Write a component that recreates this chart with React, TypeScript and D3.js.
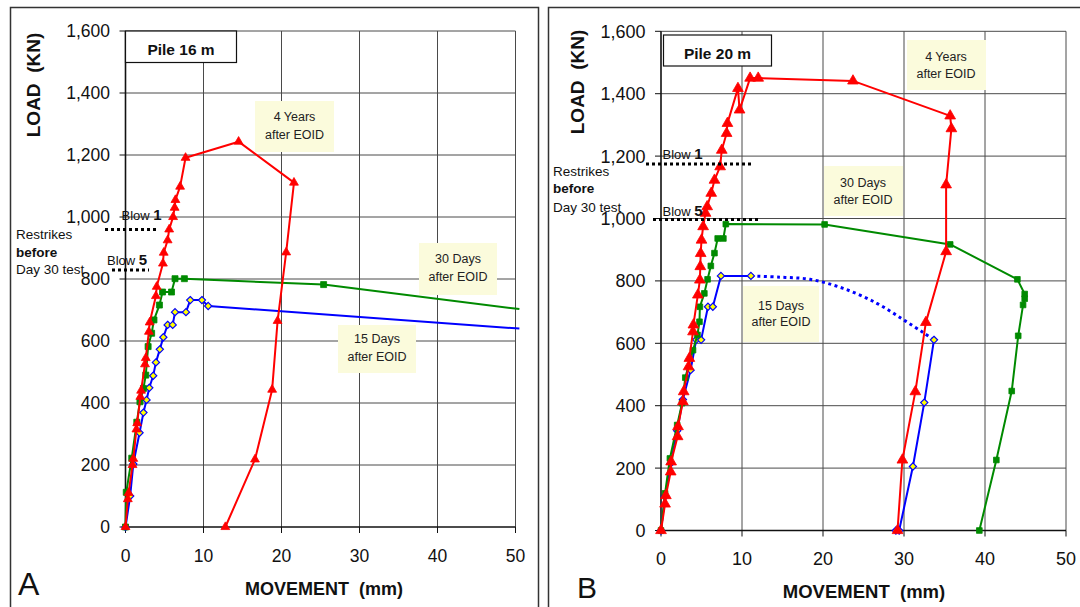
import React from "react";
import * as d3 from "d3";

type Pt = [number, number];

// ---------- DATA ----------
const xTicks = [0, 10, 20, 30, 40, 50];
const yTicks = [0, 200, 400, 600, 800, 1000, 1200, 1400, 1600];

// Pile 16 m (panel A)
const pile16_4Years: Pt[] = [
  [0, 0], [0.3, 90], [0.4, 110], [0.9, 200], [1.0, 220], [1.4, 315], [1.5, 335],
  [1.9, 420], [2.0, 440], [2.5, 525], [2.6, 545], [3.0, 630], [3.1, 660],
  [3.9, 745], [4.0, 775], [4.8, 850], [4.9, 885], [5.4, 925], [5.6, 960],
  [6.1, 1000], [6.3, 1030], [6.4, 1055], [7.0, 1098], [7.7, 1191],
  [14.5, 1243], [21.6, 1111], [20.6, 886], [19.5, 665], [18.8, 443], [16.6, 218], [12.8, 0],
];
const pile16_30Days: Pt[] = [
  [0, 0], [0.1, 112], [0.8, 222], [1.45, 338], [1.85, 404], [2.3, 447], [2.6, 490],
  [2.9, 582], [3.35, 625], [3.65, 668], [4.35, 716], [4.75, 758], [5.9, 758],
  [6.35, 801], [7.55, 801], [25.4, 782],
];
const pile16_30DaysEdge: Pt = [50.5, 703];
const pile16_15Days: Pt[] = [
  [0, 0], [0.6, 100], [1.0, 203], [1.8, 304], [2.3, 369], [2.7, 410], [3.05, 449],
  [3.55, 488], [3.9, 531], [4.4, 573], [4.85, 612], [5.4, 652], [6.05, 652],
  [6.35, 693], [7.75, 693], [8.3, 732], [9.8, 732], [10.6, 713],
];
const pile16_15DaysEdge: Pt = [50.5, 640];
const pile16_blows = [
  { blow: "1", load: 960 },
  { blow: "5", load: 829 },
];

// Pile 20 m (panel B)
const pile20_4Years: Pt[] = [
  [0, 0], [0.5, 85], [0.6, 112], [1.2, 188], [1.25, 220], [2.05, 301], [2.1, 333],
  [2.7, 413], [2.8, 445], [3.4, 525], [3.5, 552], [3.95, 637], [4.0, 659],
  [4.55, 755], [4.8, 803], [4.85, 846], [4.9, 888], [5.0, 931], [5.2, 974],
  [5.5, 1017], [5.7, 1038], [6.2, 1081], [6.6, 1123], [7.3, 1166], [7.5, 1219],
  [8.1, 1273], [8.2, 1305], [9.5, 1417], [9.7, 1348], [11.0, 1450], [12.0, 1450],
  [23.7, 1441], [35.7, 1329], [35.85, 1288], [35.2, 1108], [35.2, 894],
  [32.7, 667], [31.4, 445], [29.8, 226], [29.2, 0],
];
const pile20_30Days: Pt[] = [
  [0, 0], [0.5, 119], [1.1, 231], [2.0, 338], [2.6, 408], [3.0, 490], [3.95, 578],
  [4.5, 627], [4.75, 669], [4.8, 717], [5.35, 760], [5.75, 805], [6.15, 848],
  [6.6, 889], [7.0, 936], [7.7, 936], [8.0, 982], [20.2, 981], [35.7, 917],
  [44.0, 805], [44.9, 758], [44.9, 743], [44.7, 723], [44.1, 624], [43.3, 447],
  [41.4, 226], [39.3, 0],
];
const pile20_15Days: Pt[] = [
  [0, 0], [0.5, 110], [1.2, 215], [2.0, 320], [2.7, 420], [3.65, 514], [4.35, 611],
  [4.95, 611], [5.8, 717], [6.4, 717], [7.4, 816], [11.1, 816],
];
const pile20_15DaysTrend: Pt[] = [
  [11.1, 816], [14.7, 812], [18.4, 805], [22.5, 776], [26.6, 729], [29.9, 676],
  [32.4, 634], [33.7, 611],
];
const pile20_15DaysUnload: Pt[] = [
  [33.7, 611], [32.5, 410], [31.1, 205], [29.4, 0], [29.0, 0],
];
const pile20_blows = [
  { blow: "1", load: 1175 },
  { blow: "5", load: 997 },
];

// ---------- STYLE ----------
const FONT = "'Liberation Sans', Arial, Helvetica, sans-serif";
const RED = "#ff0000";
const GREEN = "#008a00";
const BLUE = "#0000ff";
const YELLOW = "#ffff00";
const NOTE_FILL = "#fbfbdc";

type Marker = "triangle" | "square" | "diamond" | "none";
interface Series {
  data: Pt[];
  edge?: Pt; // line continues to this point, no marker
  color: string;
  marker: Marker;
  dotted?: boolean;
  smooth?: boolean;
}

interface Note { lines: string[]; x: number; y: number; w: number; h: number; cx: number; base: number[] }

interface Layout {
  frame: { x: number; y: number; w: number; h: number };
  plot: { x0: number; x1: number; y0: number; y1: number };
  title: { text: string; x: number; y: number; w: number; h: number; base: number };
  letter: { text: string; x: number; y: number; size: number };
  yLabel: { x: number; y: number };
  xLabel: { x: number; y: number; size: number };
  restrike: { x: number; base: number[] };
  blowText: { x: number; base: number }[];
  blowLine: { from: number; to: number }[];
  notes: Note[];
  tickSize: number;
  triSize: number;
  sqSize: number;
  diaR: number;
  xTickBase: number;
}

const layoutA: Layout = {
  frame: { x: 10, y: 7, w: 528, h: 640 },
  plot: { x0: 125.5, x1: 515.5, y0: 527, y1: 31 },
  title: { text: "Pile 16 m", x: 125.5, y: 31, w: 111, h: 31.5, base: 55 },
  letter: { text: "A", x: 18, y: 595, size: 32 },
  yLabel: { x: 32.5, y: 85 },
  xLabel: { x: 324, y: 595, size: 18 },
  restrike: { x: 16, base: [239, 257, 274] },
  blowText: [{ x: 121.5, base: 220 }, { x: 107, base: 265 }],
  blowLine: [{ from: 105, to: 157 }, { from: 112, to: 149 }],
  notes: [
    { lines: ["4 Years", "after EOID"], x: 255, y: 101, w: 79, h: 51, cx: 294.5, base: [120.5, 139] },
    { lines: ["30 Days", "after EOID"], x: 419, y: 243, w: 78, h: 52, cx: 458, base: [263, 281] },
    { lines: ["15 Days", "after EOID"], x: 338, y: 325, w: 78, h: 48, cx: 377, base: [343, 360.5] },
  ],
  tickSize: 17.5,
  triSize: 34,
  sqSize: 36,
  diaR: 3.6,
  xTickBase: 562,
};

const layoutB: Layout = {
  frame: { x: 548, y: 7, w: 600, h: 640 },
  plot: { x0: 661, x1: 1066, y0: 530.5, y1: 31.3 },
  title: { text: "Pile 20 m", x: 663.5, y: 35, w: 108, h: 31, base: 59 },
  letter: { text: "B", x: 577, y: 598, size: 30 },
  yLabel: { x: 577, y: 82 },
  xLabel: { x: 864, y: 598, size: 18.5 },
  restrike: { x: 553, base: [175.5, 193, 211.5] },
  blowText: [{ x: 662.5, base: 159 }, { x: 662.5, base: 215.5 }],
  blowLine: [{ from: 646, to: 752 }, { from: 653, to: 759 }],
  notes: [
    { lines: ["4 Years", "after EOID"], x: 907, y: 40, w: 79, h: 50, cx: 946, base: [60.5, 78] },
    { lines: ["30 Days", "after EOID"], x: 824, y: 166, w: 79, h: 50, cx: 863, base: [186.5, 204] },
    { lines: ["15 Days", "after EOID"], x: 743, y: 286, w: 76, h: 56, cx: 781, base: [309.5, 326] },
  ],
  tickSize: 18,
  triSize: 50,
  sqSize: 32,
  diaR: 3.6,
  xTickBase: 565,
};

function markerPath(m: Marker, L: Layout): string {
  if (m === "triangle") return d3.symbol(d3.symbolTriangle, L.triSize)() || "";
  if (m === "square") return d3.symbol(d3.symbolSquare, L.sqSize)() || "";
  if (m === "diamond") {
    const r = L.diaR;
    return `M0,${-r}L${r},0L0,${r}L${-r},0Z`;
  }
  return "";
}

function Panel({ L, series, blows }: { L: Layout; series: Series[]; blows: { blow: string; load: number }[] }) {
  const x = d3.scaleLinear().domain([0, 50]).range([L.plot.x0, L.plot.x1]);
  const y = d3.scaleLinear().domain([0, 1600]).range([L.plot.y0, L.plot.y1]);
  const grid = "#4a4a4a";
  return (
    <g fontFamily={FONT}>
      {/* outer frame */}
      <rect x={L.frame.x + 0.5} y={L.frame.y + 0.5} width={L.frame.w} height={L.frame.h}
        fill="white" stroke="#333" strokeWidth={1.5} />
      {/* grid */}
      {yTicks.filter((t) => t > 0).map((t) => (
        <line key={"hy" + t} x1={x(0)} x2={x(50)} y1={y(t)} y2={y(t)} stroke={grid} strokeWidth={1} />
      ))}
      {xTicks.filter((t) => t > 0).map((t) => (
        <line key={"vx" + t} x1={x(t)} x2={x(t)} y1={y(0)} y2={y(1600)} stroke={grid} strokeWidth={1} />
      ))}
      {/* axes */}
      <line x1={x(0)} x2={x(0)} y1={y(0) + 0.5} y2={y(1600)} stroke="#111" strokeWidth={1.6} />
      <line x1={x(0)} x2={x(50)} y1={y(0)} y2={y(0)} stroke="#111" strokeWidth={1.6} />
      {yTicks.map((t) => (
        <g key={"ty" + t}>
          <line x1={x(0) - 6} x2={x(0)} y1={y(t)} y2={y(t)} stroke="#111" strokeWidth={1} />
          <text x={x(0) - 15.5} y={y(t)} dy="0.36em" textAnchor="end" fontSize={L.tickSize} fill="#111">
            {d3.format(",")(t)}
          </text>
        </g>
      ))}
      {xTicks.map((t) => (
        <g key={"tx" + t}>
          <line x1={x(t)} x2={x(t)} y1={y(0)} y2={y(0) + 6} stroke="#111" strokeWidth={1} />
          <text x={x(t)} y={L.xTickBase} textAnchor="middle" fontSize={L.tickSize} fill="#111">{t}</text>
        </g>
      ))}
      {/* annotation notes */}
      {L.notes.map((n, i) => (
        <rect key={"n" + i} x={n.x} y={n.y} width={n.w} height={n.h} fill={NOTE_FILL} />
      ))}
      {/* series */}
      {series.map((s, i) => {
        const gen = d3.line<Pt>().x((d) => x(d[0])).y((d) => y(d[1]));
        if (s.smooth) gen.curve(d3.curveCatmullRom.alpha(0.5));
        const lineData = s.edge ? [...s.data, s.edge] : s.data;
        return (
          <g key={"s" + i}>
            <path d={gen(lineData) || ""} fill="none" stroke={s.color}
              strokeWidth={s.dotted ? 3 : 2}
              strokeDasharray={s.dotted ? "3 3.5" : undefined}
              strokeLinejoin="round" />
            {s.marker !== "none" && s.data.map((d, j) => (
              <path key={j} d={markerPath(s.marker, L)}
                transform={`translate(${x(d[0])},${y(d[1])})`}
                fill={s.marker === "diamond" ? YELLOW : s.color}
                stroke={s.marker === "diamond" ? BLUE : s.color}
                strokeWidth={s.marker === "diamond" ? 1.2 : 0.8} />
            ))}
          </g>
        );
      })}
      {/* note texts */}
      {L.notes.map((n, i) => (
        <g key={"nt" + i}>
          {n.lines.map((ln, k) => (
            <text key={k} x={n.cx} y={n.base[k]} textAnchor="middle" fontSize={12.5} fill="#222">{ln}</text>
          ))}
        </g>
      ))}
      {/* blow lines */}
      {blows.map((b, i) => (
        <g key={"b" + i}>
          <line x1={L.blowLine[i].from} x2={L.blowLine[i].to} y1={y(b.load)} y2={y(b.load)}
            stroke="#000" strokeWidth={3} strokeDasharray="3 3" />
          <text x={L.blowText[i].x} y={L.blowText[i].base} fontSize={13} fill="#111">
            Blow <tspan fontWeight="bold" fontSize={15}>{b.blow}</tspan>
          </text>
        </g>
      ))}
      <text x={L.restrike.x} y={L.restrike.base[0]} fontSize={13.5} fill="#111">Restrikes</text>
      <text x={L.restrike.x} y={L.restrike.base[1]} fontSize={13.5} fontWeight="bold" fill="#111">before</text>
      <text x={L.restrike.x} y={L.restrike.base[2]} fontSize={13.5} fill="#111">Day 30 test</text>
      {/* title box */}
      <rect x={L.title.x} y={L.title.y} width={L.title.w} height={L.title.h} fill="white" stroke="#111" strokeWidth={1.2} />
      <text x={L.title.x + L.title.w / 2} y={L.title.base} textAnchor="middle" fontSize={15.5} fontWeight="bold" fill="#111">
        {L.title.text}
      </text>
      {/* axis titles */}
      <text transform={`translate(${L.yLabel.x + 7},${L.yLabel.y}) rotate(-90)`} textAnchor="middle"
        fontSize={19} fontWeight="bold" fill="#111" style={{ whiteSpace: "pre" }}>
        {"LOAD  (KN)"}
      </text>
      <text x={L.xLabel.x} y={L.xLabel.y} textAnchor="middle" fontSize={L.xLabel.size} fontWeight="bold" fill="#111"
        style={{ whiteSpace: "pre" }}>
        {"MOVEMENT  (mm)"}
      </text>
      <text x={L.letter.x} y={L.letter.y} fontSize={L.letter.size} fill="#111">{L.letter.text}</text>
    </g>
  );
}

export default function App() {
  const seriesA: Series[] = [
    { data: pile16_15Days, edge: pile16_15DaysEdge, color: BLUE, marker: "diamond" },
    { data: pile16_30Days, edge: pile16_30DaysEdge, color: GREEN, marker: "square" },
    { data: pile16_4Years, color: RED, marker: "triangle" },
  ];
  const seriesB: Series[] = [
    { data: pile20_15DaysTrend, color: BLUE, marker: "none", dotted: true, smooth: true },
    { data: pile20_15Days, color: BLUE, marker: "diamond" },
    { data: pile20_15DaysUnload, color: BLUE, marker: "diamond" },
    { data: pile20_30Days, color: GREEN, marker: "square" },
    { data: pile20_4Years, color: RED, marker: "triangle" },
  ];
  return (
    <svg width={1080} height={607} viewBox="0 0 1080 607"
      style={{ position: "absolute", left: 0, top: 0, background: "white" }}>
      <rect x={0} y={0} width={1080} height={607} fill="white" />
      <Panel L={layoutA} series={seriesA} blows={pile16_blows} />
      <Panel L={layoutB} series={seriesB} blows={pile20_blows} />
    </svg>
  );
}
